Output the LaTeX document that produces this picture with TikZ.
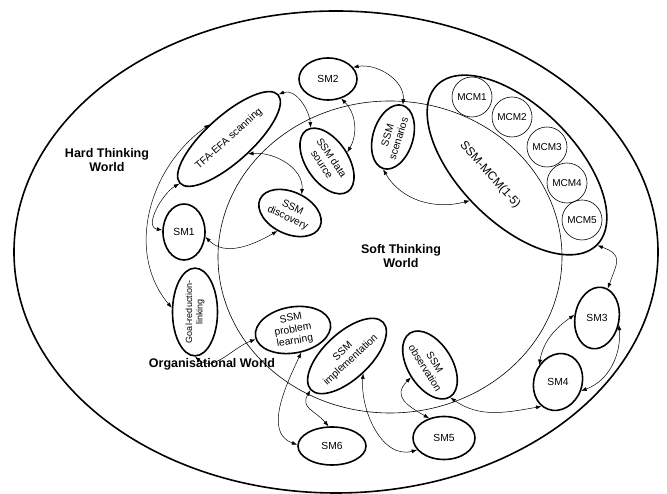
\documentclass[tikz,border=0pt]{standalone}
\usepackage{fontspec}
\setmainfont{Liberation Sans}
\usetikzlibrary{shapes,arrows.meta,calc}

\begin{document}
\begin{tikzpicture}[
            x=1pt, y=1pt,
            stage/.style={draw, ellipse, line width=1.6pt, inner sep=0pt, align=center, font=\fontsize{10.3}{11.5}\selectfont},
            mcm/.style={draw, circle, line width=0.6pt, minimum size=40pt, inner sep=0pt, font=\fontsize{10}{12}\selectfont},
            world/.style={align=center, font=\fontsize{12.5}{14}\selectfont\bfseries},
            link/.style={<->, >={Latex[length=5.5pt,width=4pt]}, line width=0.5pt}
        ]
            \useasboundingbox (0,0) rectangle (667,494);
            \draw[line width=1.6pt] (336,242) ellipse [x radius=322, y radius=241];
            \draw[line width=0.6pt] (390,237) ellipse [x radius=172, y radius=156];

            \node[world] (hard) at (107,334) {Hard Thinking\\World};
            \node[world] (soft) at (401,238) {Soft Thinking\\World};
            \node[world] (org) at (212,130) {Organisational World};

            \node[stage, minimum width=58pt, minimum height=42pt] (sm2) at (328,415) {SM2};
            \node[stage, rotate=42, minimum width=132pt, minimum height=46pt] (tfa) at (229,355) {TFA-EFA scanning};
            \node[stage, rotate=-56, minimum width=74pt, minimum height=42pt] (src) at (327,333) {SSM data\\source};
            \node[stage, rotate=73, minimum width=66pt, minimum height=40pt] (scen) at (393,357) {SSM\\scenarios};
            \node[stage, rotate=-45, minimum width=226pt, minimum height=116pt] (ssmmcm) at (517,329) {};
            \node[rotate=-48, font=\fontsize{12}{14}\selectfont] (mcmlabel) at (490,319) {SSM-MCM(1-5)};
            \node[mcm] (mcm1) at (472,397) {MCM1};
            \node[mcm] (mcm2) at (512,377) {MCM2};
            \node[mcm] (mcm3) at (547,347) {MCM3};
            \node[mcm] (mcm4) at (567,311) {MCM4};
            \node[mcm] (mcm5) at (582,274) {MCM5};
            \node[stage, rotate=-25, minimum width=66pt, minimum height=42pt] (disc) at (290,281) {SSM\\discovery};
            \node[stage, minimum width=42pt, minimum height=56pt] (sm1) at (184,262) {SM1};
            \node[stage, rotate=90, minimum width=75pt, minimum height=45pt, font=\fontsize{9}{10.5}\selectfont] (goal) at (195,182) {Goal-reduction-\\linking};
            \node[stage, rotate=10, minimum width=76pt, minimum height=46pt] (plearn) at (293,164) {SSM\\problem\\learning};
            \node[stage, rotate=43, minimum width=98pt, minimum height=46pt] (impl) at (347,138) {SSM\\implementation};
            \node[stage, rotate=-58, minimum width=68pt, minimum height=44pt] (obs) at (430,129) {SSM\\observation};
            \node[stage, minimum width=68pt, minimum height=38pt] (sm6) at (332,48) {SM6};
            \node[stage, minimum width=62pt, minimum height=43pt] (sm5) at (444,56) {SM5};
            \node[stage, rotate=-10, minimum width=44pt, minimum height=62pt] (sm3) at (597,176) {\rotatebox{10}{SM3}};
            \node[stage, rotate=-20, minimum width=48pt, minimum height=58pt] (sm4) at (558,112) {\rotatebox{20}{SM4}};

            \draw[link] (tfa.0) to[out=20, in=95] (src.172);
            \draw[link] (sm2.-56) to[out=-45, in=60] (src.79);
            \draw[link] (sm2.25) to[out=10, in=85] (scen.0);
            \draw[link] (scen.180) to[out=-60, in=195] (ssmmcm.262);
            \draw[link] (tfa.-80) to[out=5, in=85] (disc.83);
            \draw[link] (tfa.180) to[out=210, in=170] (sm1.175);
            \draw[link] (tfa.101) to[out=215, in=130] (goal.80);
            \draw[link] (sm1.-13) to[out=-45, in=210] (disc.260);
            \draw[link] (goal.180) to[out=-40, in=200] (plearn.184);
            \draw[link] (plearn.-80) to[out=245, in=160] (sm6.178);
            \draw[link] (impl.180) to[out=240, in=130, looseness=1.3] (sm6.100);
            \draw[link] (impl.-90) to[out=265, in=195] (sm5.204);
            \draw[link] (obs.271) to[out=225, in=150, looseness=1.5] (sm5.127);
            \draw[link] (obs.0) to[out=-35, in=190] (sm4.256);
            \draw[link] (sm3.182) to[out=215, in=80] (sm4.158);
            \draw[link] (sm3.-7) to[out=-85, in=20] (sm4.-1);
            \draw[link] (ssmmcm.0) to[out=-20, in=70, looseness=1.6] (sm3.80);
        \end{tikzpicture}
\end{document}
